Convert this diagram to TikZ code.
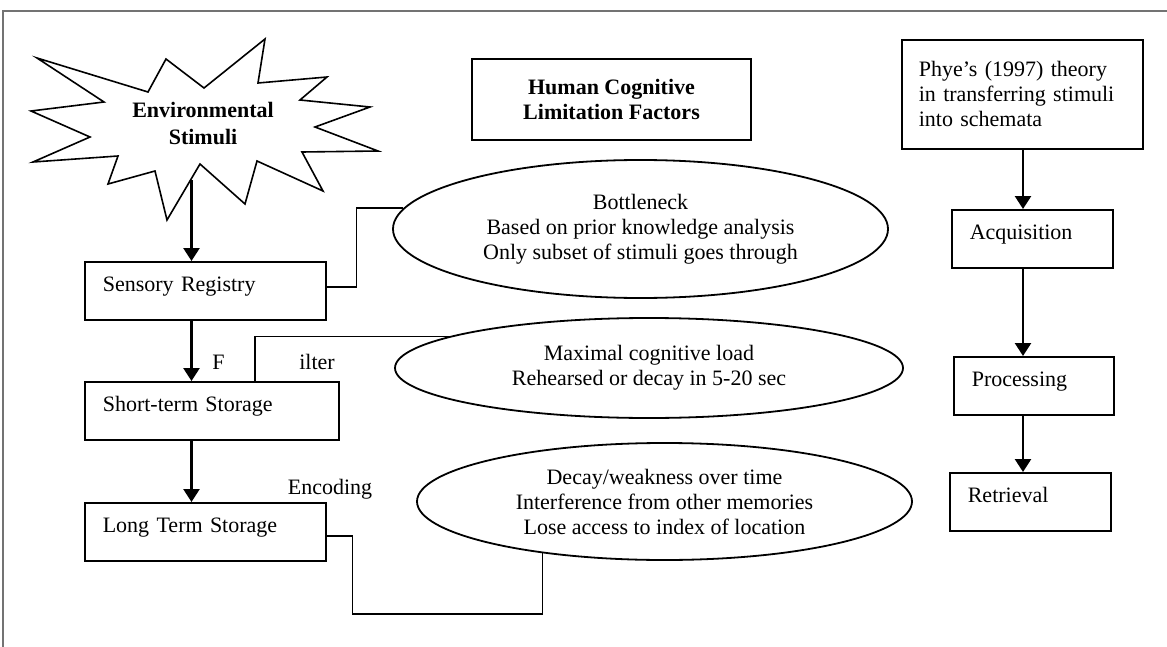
\documentclass[tikz,border=0pt]{standalone}
\usepackage{fontspec}
\setmainfont{Liberation Serif}
\usetikzlibrary{arrows.meta,shapes.geometric}

\begin{document}
\begin{tikzpicture}[x=0.5pt, y=-0.5pt,
        every node/.style={font=\fontsize{11}{12.5}\selectfont}]
                \tikzstyle{box}=[
                    draw, line width=0.8pt, anchor=north west, align=left,
                    inner xsep=9pt, inner ysep=0pt, text height=15pt, text depth=14pt]
                \tikzstyle{limit}=[
                    draw, ellipse, line width=0.9pt, inner sep=0pt, align=center]
                \tikzstyle{connector}=[-{Triangle[length=6.5pt, width=8pt]}, line width=1.3pt]
                \tikzstyle{link}=[line width=0.8pt]
                \useasboundingbox (0,0) rectangle (1167,647);

                % frame
                \draw [black!55, line width=0.8pt] (1167,11) -- (3,11) -- (3,647);

                % stimuli burst
                \draw [line width=0.8pt] (37,58) -- (148,92) -- (166,59) -- (204,88)
                    -- (265,39) -- (258,83) -- (327,77) -- (300,100) -- (370,107)
                    -- (315,127) -- (378,151) -- (302,152) -- (323,191) -- (257,161)
                    -- (245,204) -- (200,164) -- (167,220) -- (155,171) -- (108,184)
                    -- (118,156) -- (33,162) -- (90,137) -- (31,111) -- (104,102) -- cycle;
                \node [align=center, font=\fontsize{11}{13.5}\selectfont\bfseries] (stim)
                    at (203,123.5) {Environmental\\Stimuli};
                \coordinate (bs) at (191.5,180);

                % memory stores
                \node [box, text width=102.5pt] (sr) at (84,261) {Sensory Registry};
                \node [box, text width=109pt] (st) at (84,381) {Short-term Storage};
                \node [box, text width=102.5pt] (lts) at (84,502) {Long Term Storage};

                \draw [connector] (bs) -- (bs |- sr.north);
                \foreach \source/\dest in {sr/st, st/lts}
                    \draw [connector] (bs |- \source.south) -- (bs |- \dest.north);

                \node (fl) at (218.5,362) {F};
                \node (il) at (317,362) {ilter};
                \node (enc) at (330,489) {Encoding};

                % limitation factors
                \node [draw, line width=1pt, minimum width=139.5pt, minimum height=40.5pt,
                    align=center, font=\fontsize{11}{12.5}\selectfont\bfseries] (hclf)
                    at (611.5,99.5) {Human Cognitive\\Limitation Factors};

                \node [limit, minimum width=247.5pt, minimum height=69pt] (ell1)
                    at (640.5,229) {Bottleneck\\Based on prior knowledge analysis\\Only subset of stimuli goes through};
                \node [limit, minimum width=254pt, minimum height=50pt] (ell2)
                    at (649,368) {Maximal cognitive load\\Rehearsed or decay in 5-20 sec};
                \node [limit, minimum width=247.5pt, minimum height=58.5pt] (ell3)
                    at (664.5,501.5) {Decay/weakness over time\\Interference from other memories\\Lose access to index of location};

                \draw [link] ([yshift=2pt]sr.east) -- ++(15pt,0) |- (ell1.175);
                \draw [link] ([xshift=21.5pt]st.north) |- (ell2.171.6);
                \draw [link] ([yshift=-2pt]lts.east) -- ++(13pt,0) -- ++(0,-39pt) -| (ell3.203);

                % Phye's stages
                \node [draw, line width=0.8pt, anchor=north west, align=left, inner xsep=8.5pt,
                    text width=103.5pt, minimum height=54.5pt] (phye)
                    at (901,39) {Phye’s (1997) theory\\in transferring stimuli\\into schemata};
                \node [box, text width=62.5pt] (acq) at (951,209) {Acquisition};
                \node [box, text width=62pt] (proc) at (953,356) {Processing};
                \node [box, text width=62.5pt] (retr) at (949,472) {Retrieval};

                \coordinate (rc) at (1023,0);
                \foreach \source/\dest in {phye/acq, acq/proc, proc/retr}
                    \draw [connector] (rc |- \source.south) -- (rc |- \dest.north);
            \end{tikzpicture}
\end{document}
